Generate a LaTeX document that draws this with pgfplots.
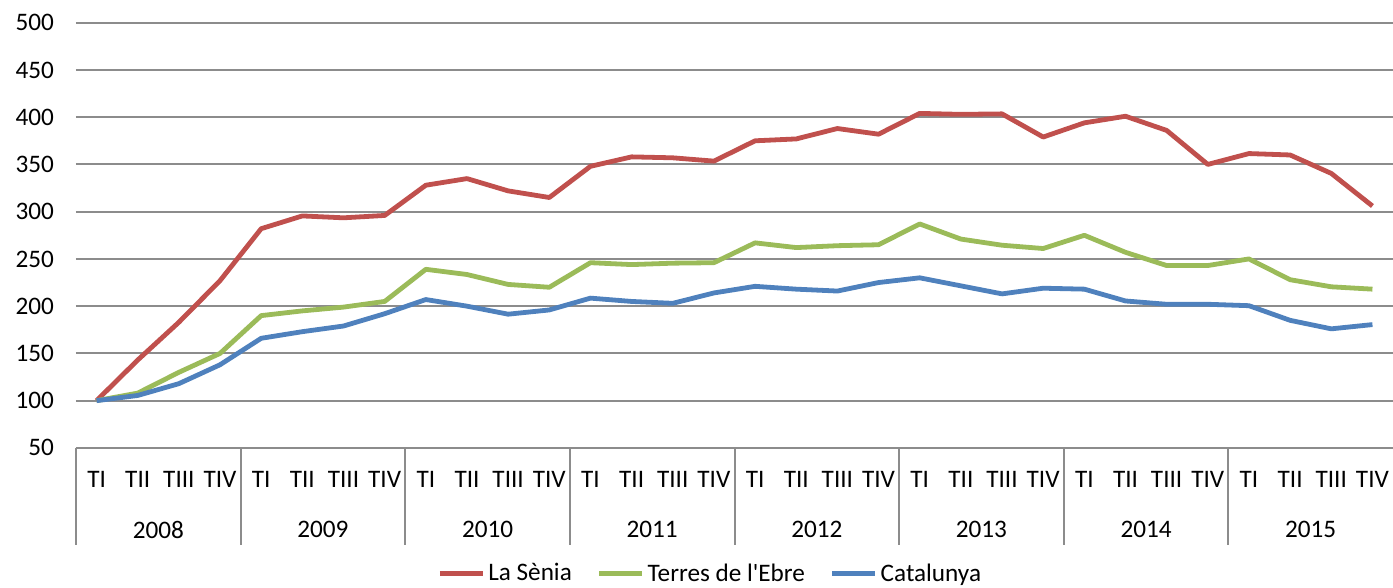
\documentclass[border=0pt]{standalone}
\usepackage{fontspec}
\setmainfont{Carlito}
\usepackage{pgfplots}
\pgfplotsset{compat=1.18}
\usetikzlibrary{calc}
\definecolor{cRed}{HTML}{C0504D}
\definecolor{cGreen}{HTML}{9BBB59}
\definecolor{cBlue}{HTML}{4F81BD}
\definecolor{gridc}{HTML}{8C8C8C}
\newcommand{\fs}{\fontsize{12.6pt}{14pt}\selectfont}
\pgfplotstableread{
x senia ebre cat
0 100 100 100
1 143 108 105.5
2 183 130 118
3 227 150 138
4 282 190 166
5 295.5 195 173
6 293.5 199 179
7 296 205 192
8 328 239 207
9 335 233.5 200
10 322 223 191.5
11 315 220 196
12 348 246 208.5
13 358 244 205
14 357 245.5 203
15 353.5 246 214
16 375 267 221
17 377 262 218
18 388 264 216
19 382 265 225
20 404 287 230
21 403 271 221.5
22 403.5 264.5 213
23 379 261 219
24 394 275 218
25 401 257 205.5
26 386 243 202
27 350 243 202
28 361.5 250 200.5
29 360 228 185
30 340.5 220.5 176
31 306 218 180.5
}\datatable
\begin{document}
\begin{tikzpicture}
\begin{axis}[
  scale only axis,
  width=658.5pt, height=212.6pt,
  xmin=-0.5, xmax=31.5,
  ymin=50, ymax=500,
  ytick={50,100,...,500},
  ymajorgrids,
  grid style={gridc, line width=1pt},
  axis line style={draw=none},
  xtick={0,...,31},
  xticklabels={TI,TII,TIII,TIV,TI,TII,TIII,TIV,TI,TII,TIII,TIV,TI,TII,TIII,TIV,TI,TII,TIII,TIV,TI,TII,TIII,TIV,TI,TII,TIII,TIV,TI,TII,TIII,TIV},
  xtick pos=bottom, ytick pos=left,
  major tick length=0pt,
  tick label style={font=\fs},
  /pgf/number format/assume math mode=true,
  yticklabel style={xshift=-7.5pt},
  xticklabel style={anchor=center, yshift=-16pt},
  extra x ticks={-0.5,3.5,7.5,11.5,15.5,19.5,23.5,27.5},
  extra x tick labels={},
  extra x tick style={grid=none, tick align=outside, major tick length=48.5pt, tick style={gridc, line width=1pt}},
  clip=false,
  legend style={at={(0.482,-0.296)}, anchor=center, draw=none, fill=none,
    legend columns=3, font=\fs,
    /tikz/every even column/.append style={column sep=11pt},
    nodes={inner sep=1.5pt}},
  legend image code/.code={\draw[#1] (0pt,0pt) -- (21.5pt,0pt);},
  every axis plot/.append style={line width=2.4pt, line join=round},
]
\addplot[cRed, no markers] table[x=x, y=senia] {\datatable};
\addlegendentry{La Sènia}
\addplot[cGreen, no markers] table[x=x, y=ebre] {\datatable};
\addlegendentry{Terres de l\textquotesingle Ebre}
\addplot[cBlue, no markers] table[x=x, y=cat] {\datatable};
\addlegendentry{Catalunya}
\node[font=\fs, yshift=-41pt] at (axis cs:1.5,50) {2008};
\node[font=\fs, yshift=-41pt] at (axis cs:5.5,50) {2009};
\node[font=\fs, yshift=-41pt] at (axis cs:9.5,50) {2010};
\node[font=\fs, yshift=-41pt] at (axis cs:13.5,50) {2011};
\node[font=\fs, yshift=-41pt] at (axis cs:17.5,50) {2012};
\node[font=\fs, yshift=-41pt] at (axis cs:21.5,50) {2013};
\node[font=\fs, yshift=-41pt] at (axis cs:25.5,50) {2014};
\node[font=\fs, yshift=-41pt] at (axis cs:29.5,50) {2015};
\coordinate (bl) at (rel axis cs:0,0);
\coordinate (tr) at (rel axis cs:1,1);
\end{axis}
\pgfresetboundingbox
\useasboundingbox ($(bl)+(-38pt,-70pt)$) rectangle ($(tr)+(0pt,11.35pt)$);
\end{tikzpicture}
\end{document}
